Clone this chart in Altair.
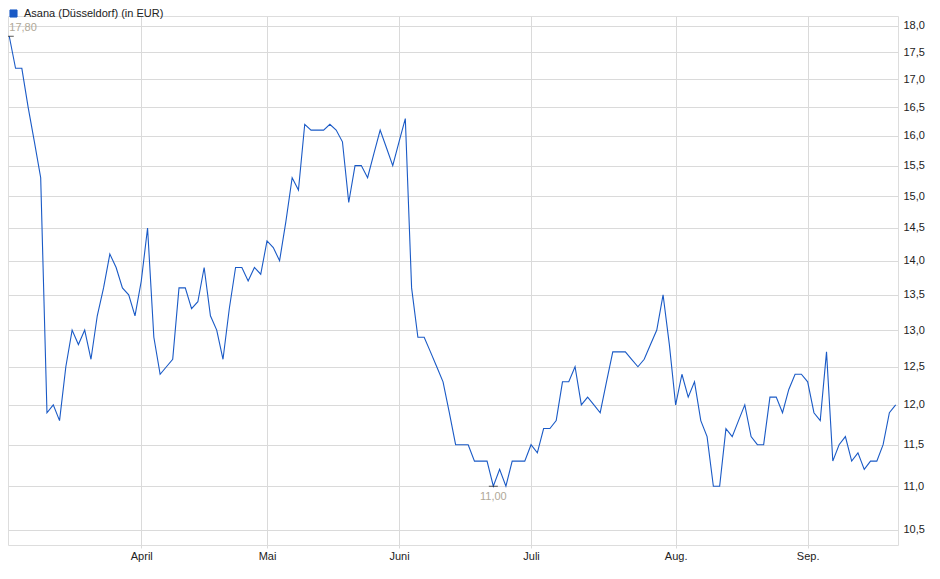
import altair as alt
import pandas as pd

# ---- data (one value per trading day) ----
price = [
    17.8, 17.2, 17.2, 16.5, 15.9, 15.3, 11.9, 12.0, 11.8, 12.5,
    13.0, 12.8, 13.0, 12.6, 13.2, 13.6, 14.1, 13.9, 13.6, 13.5,
    13.2, 13.7, 14.5, 12.9, 12.4, 12.5, 12.6, 13.6, 13.6, 13.3,
    13.4, 13.9, 13.2, 13.0, 12.6, 13.3, 13.9, 13.9, 13.7, 13.9,
    13.8, 14.3, 14.2, 14.0, 14.6, 15.3, 15.1, 16.2, 16.1, 16.1,
    16.1, 16.2, 16.1, 15.9, 14.9, 15.5, 15.5, 15.3, 15.7, 16.1,
    15.8, 15.5, 15.9, 16.3, 13.6, 12.9, 12.9, 12.7, 12.5, 12.3,
    11.9, 11.5, 11.5, 11.5, 11.3, 11.3, 11.3, 11.0, 11.2, 11.0,
    11.3, 11.3, 11.3, 11.5, 11.4, 11.7, 11.7, 11.8, 12.3, 12.3,
    12.5, 12.0, 12.1, 12.0, 11.9, 12.3, 12.7, 12.7, 12.7, 12.6,
    12.5, 12.6, 12.8, 13.0, 13.5, 12.8, 12.0, 12.4, 12.1, 12.3,
    11.8, 11.6, 11.0, 11.0, 11.7, 11.6, 11.8, 12.0, 11.6, 11.5,
    11.5, 12.1, 12.1, 11.9, 12.2, 12.4, 12.4, 12.3, 11.9, 11.8,
    12.7, 11.3, 11.5, 11.6, 11.3, 11.4, 11.2, 11.3, 11.3, 11.5,
    11.9, 12.0,
]
day = list(range(len(price)))

month_labels = ["April", "Mai", "Juni", "Juli", "Aug.", "Sep."]
month_start_day = [21, 41, 62, 83, 106, 127]

y_ticks = [10.5, 11.0, 11.5, 12.0, 12.5, 13.0, 13.5, 14.0, 14.5,
           15.0, 15.5, 16.0, 16.5, 17.0, 17.5, 18.0]

series_name = "Asana (Düsseldorf) (in EUR)"

LINE_BLUE = "#1a5ac6"
GRID = "#dadada"
FONT = "Liberation Sans"

df = pd.DataFrame({"day": day, "price": price, "series": series_name})

i_max = int(df["price"].idxmax())
i_min = int(df["price"].idxmin())
ext_max = pd.DataFrame({"day": [day[i_max]], "price": [price[i_max]],
                        "label": [f"{price[i_max]:.2f}".replace(".", ",")]})
ext_min = pd.DataFrame({"day": [day[i_min]], "price": [price[i_min]],
                        "label": [f"{price[i_min]:.2f}".replace(".", ",")]})
ext_both = pd.concat([ext_max, ext_min], ignore_index=True)

x_scale = alt.Scale(domain=[-0.2, 141.37], nice=False, zero=False)
y_scale = alt.Scale(type="log", domain=[10.33, 18.19], nice=False, zero=False)

label_expr_x = f"{month_labels}[indexof({month_start_day}, datum.value)]"

x_enc = alt.X(
    "day:Q", scale=x_scale,
    axis=alt.Axis(values=month_start_day, labelExpr=label_expr_x, grid=True,
                  gridColor=GRID, tickColor=GRID, tickSize=3, labelPadding=2,
                  labelFontSize=11, labelColor="#222", labelFont=FONT,
                  domain=False, title=None, labelFlush=False),
)
y_enc = alt.Y(
    "price:Q", scale=y_scale,
    axis=alt.Axis(orient="right", values=y_ticks,
                  labelExpr="replace(format(datum.value, '.1f'), '.', ',')",
                  grid=True, gridColor=GRID, ticks=False, labelPadding=5,
                  labelFontSize=11, labelColor="#222", labelFont=FONT,
                  domain=False, title=None, labelFlush=False),
)

line = alt.Chart(df).mark_line(strokeWidth=1.1, interpolate="linear").encode(
    x=x_enc,
    y=y_enc,
    color=alt.Color(
        "series:N",
        scale=alt.Scale(range=[LINE_BLUE]),
        legend=alt.Legend(title=None, orient="none", legendX=0, legendY=-8,
                          symbolType="square", symbolSize=50,
                          symbolFillColor=LINE_BLUE, symbolStrokeColor="#0f2f6e",
                          symbolStrokeWidth=1, labelFontSize=11, labelFont=FONT,
                          labelColor="#222", labelOffset=5, labelLimit=300),
    ),
)

marks = alt.Chart(ext_both).mark_tick(orient="horizontal", size=9, thickness=1,
                                      color="#111").encode(
    x=alt.X("day:Q", scale=x_scale), y=alt.Y("price:Q", scale=y_scale))

txt_max = alt.Chart(ext_max).mark_text(align="left", baseline="middle", dx=0, dy=-8,
                                       fontSize=11, font=FONT, color="#b0a898").encode(
    x=alt.X("day:Q", scale=x_scale), y=alt.Y("price:Q", scale=y_scale), text="label:N")

txt_min = alt.Chart(ext_min).mark_text(align="center", baseline="middle", dy=11,
                                       fontSize=11, font=FONT, color="#b0a898").encode(
    x=alt.X("day:Q", scale=x_scale), y=alt.Y("price:Q", scale=y_scale), text="label:N")

chart = alt.layer(line, marks, txt_max, txt_min).properties(
    width=890, height=529,
    autosize=alt.AutoSizeParams(type="none"),
    padding={"left": 0, "top": 8, "right": 32, "bottom": 20},
).configure_view(stroke="#d0d0d0", strokeWidth=1).configure(font=FONT)

chart.save("out.html", embed_options={"renderer": "svg", "actions": False})
